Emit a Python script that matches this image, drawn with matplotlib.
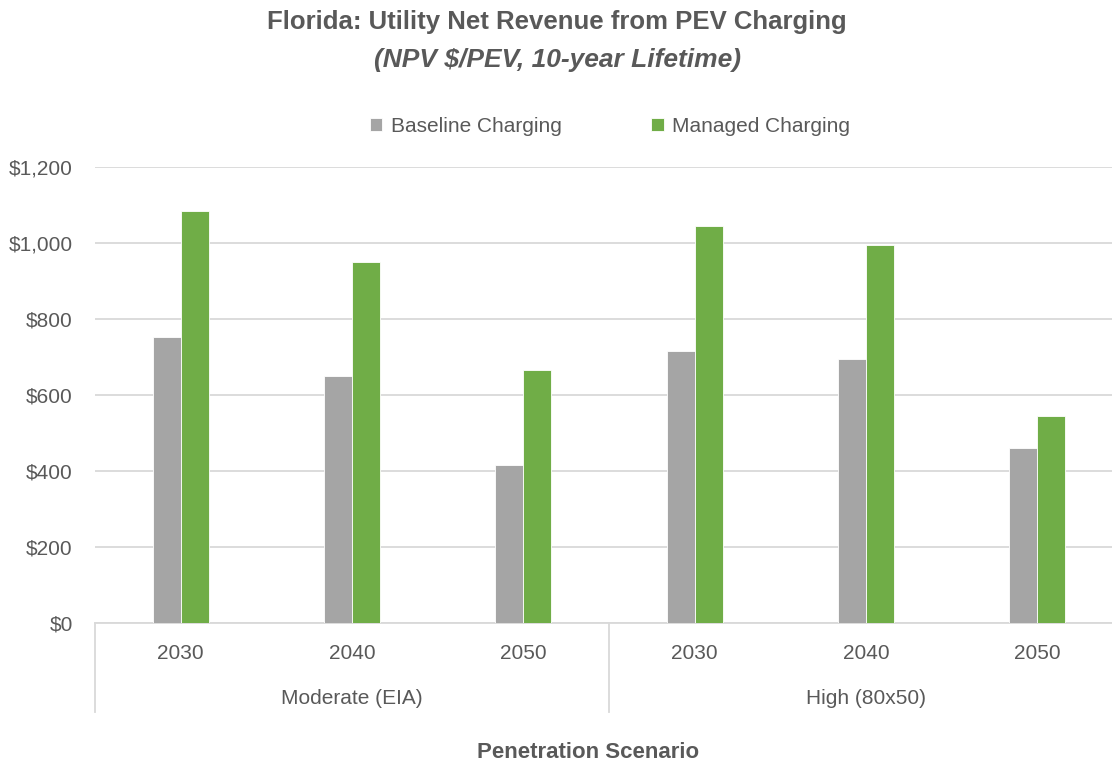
import numpy as np
import matplotlib.pyplot as plt
import matplotlib.transforms as mtransforms
from matplotlib.ticker import FuncFormatter

plt.rcParams['font.family'] = ['Liberation Sans', 'DejaVu Sans']

years = ["2030", "2040", "2050", "2030", "2040", "2050"]
groups = ["Moderate (EIA)", "High (80x50)"]
baseline = [753, 649, 415, 716, 695, 461]
managed = [1083, 950, 665, 1046, 996, 544]

txt = "#595959"
gray = "#A5A5A5"
green = "#70AD47"
grid_c = "#D9D9D9"

fig = plt.figure(figsize=(11.12, 7.65), dpi=100)
# plot area runs a little past the right edge of the picture, like the original
ax = fig.add_axes([95 / 1112, 1 - 623 / 765, 1028 / 1112, 456 / 765])

x = np.arange(len(years))
w = 0.164
ax.bar(x - w / 2, baseline, w, color=gray, edgecolor="white", linewidth=0.6, label="Baseline Charging", zorder=3)
ax.bar(x + w / 2, managed, w, color=green, edgecolor="white", linewidth=0.6, label="Managed Charging", zorder=3)

ax.set_xlim(-0.5, 5.5)
ax.set_ylim(0, 1200)
ax.set_yticks(range(0, 1201, 200))
ax.yaxis.set_major_formatter(FuncFormatter(lambda v, p: "${:,.0f}".format(v)))
ax.grid(axis="y", color=grid_c, linewidth=1.3, zorder=0)
for s in ["top", "right", "left"]:
    ax.spines[s].set_visible(False)
ax.spines["bottom"].set_color(grid_c)
ax.spines["bottom"].set_linewidth(1.3)
ax.tick_params(axis="y", length=0, pad=16, labelsize=15, labelcolor=txt)
ax.tick_params(axis="x", length=0, pad=15, labelsize=15, labelcolor=txt)
ax.set_xticks(x)
ax.set_xticklabels(years)

# second level of category labels
trans = mtransforms.blended_transform_factory(ax.transData, ax.transAxes)
for xs in [-0.5, 2.5, 5.5]:
    ax.plot([xs, xs], [0, -89 / 456], transform=trans, color=grid_c, lw=1.3, clip_on=False)
for i, g in enumerate(groups):
    ax.text(1 + 3 * i, -75 / 456, g, transform=trans, ha="center", va="center", fontsize=15, color=txt)

fig.text(588 / 1112, 1 - 752 / 765, "Penetration Scenario", ha="center", va="center",
         fontsize=16, fontweight="bold", color=txt)

fig.text(557 / 1112, 1 - 22 / 765, "Florida: Utility Net Revenue from PEV Charging", ha="center", va="center",
         fontsize=18.5, fontweight="bold", color=txt)
fig.text(557 / 1112, 1 - 60 / 765, "(NPV $/PEV, 10-year Lifetime)", ha="center", va="center",
         fontsize=19, fontweight="bold", style="italic", color=txt)

leg = fig.legend(loc="center", bbox_to_anchor=(610 / 1112, 1 - 126 / 765), ncol=2, frameon=False,
                 fontsize=15, handlelength=0.6, handleheight=0.6, handletextpad=0.4, columnspacing=4.3)
for t in leg.get_texts():
    t.set_color(txt)

fig.savefig("out.png", dpi=100)
